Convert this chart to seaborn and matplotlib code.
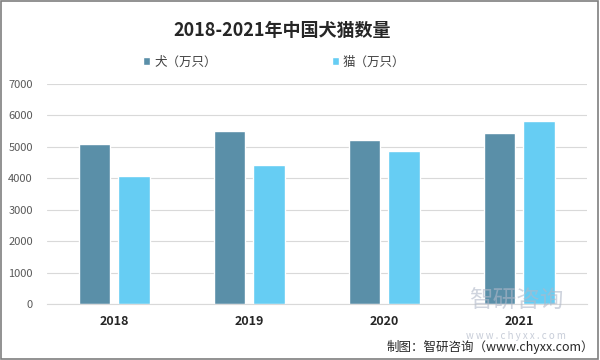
import pandas as pd
import matplotlib.pyplot as plt
import seaborn as sns
from matplotlib.patches import Rectangle

years = ["2018", "2019", "2020", "2021"]
dogs = [5085, 5503, 5222, 5429]
cats = [4064, 4412, 4862, 5806]
series_names = ["犬（万只）", "猫（万只）"]
palette = ["#5A8FA8", "#66CDF3"]

df = pd.DataFrame({
    "year": years * 2,
    "value": dogs + cats,
    "series": [series_names[0]] * 4 + [series_names[1]] * 4,
})

sns.set_style("white")
plt.rcParams["font.family"] = ["Noto Sans CJK SC", "DejaVu Sans"]

fig = plt.figure(figsize=(6, 3.6), dpi=100)
ax = fig.add_axes([0.078, 0.155, 0.9, 0.612])

sns.barplot(data=df, x="year", y="value", hue="series", palette=palette,
            width=0.58, gap=0.2, saturation=1, ax=ax)

ax.set_ylim(0, 7000)
ax.set_yticks(range(0, 7001, 1000))
ax.set_xlim(-0.5, 3.5)
ax.yaxis.grid(True, color="#d9d9d9", linewidth=0.8)
ax.set_axisbelow(True)
for side in ["left", "right", "top"]:
    ax.spines[side].set_visible(False)
ax.spines["bottom"].set_color("#d9d9d9")
ax.tick_params(axis="y", labelsize=8, colors="#595959", length=0, pad=10)
ax.tick_params(axis="x", length=0, pad=8)
for lab in ax.get_xticklabels():
    lab.set_fontweight("bold")
    lab.set_fontsize(9)
    lab.set_color("#262626")
ax.set_xlabel("")
ax.set_ylabel("")

ax.legend(loc="center left", bbox_to_anchor=(0.178, 1.1), ncol=2, frameon=False,
          fontsize=9, handlelength=0.6, handleheight=0.6, handletextpad=0.3,
          columnspacing=9.2, borderpad=0, borderaxespad=0, labelcolor="#404040")

fig.text(0.47, 0.915, "2018-2021年中国犬猫数量", ha="center", va="center",
         fontsize=13, fontweight="bold", color="#262626")

# watermark
fig.text(0.86, 0.163, "智研咨询", ha="center", va="center", fontsize=17,
         color="#b0b8c8", alpha=0.6)
fig.text(0.86, 0.067, "w w w . c h y x x . c o m", ha="center", va="center",
         fontsize=7, color="#b0b8c8", alpha=0.7)
fig.text(0.99, 0.035, "制图：智研咨询（www.chyxx.com）", ha="right", va="center",
         fontsize=9, color="#262626")

fig.patches.append(Rectangle((0.002, 0.003), 0.995, 0.994, transform=fig.transFigure,
                             fill=False, edgecolor="#7f7f7f", linewidth=1.2))

fig.savefig("out.png", dpi=100)
